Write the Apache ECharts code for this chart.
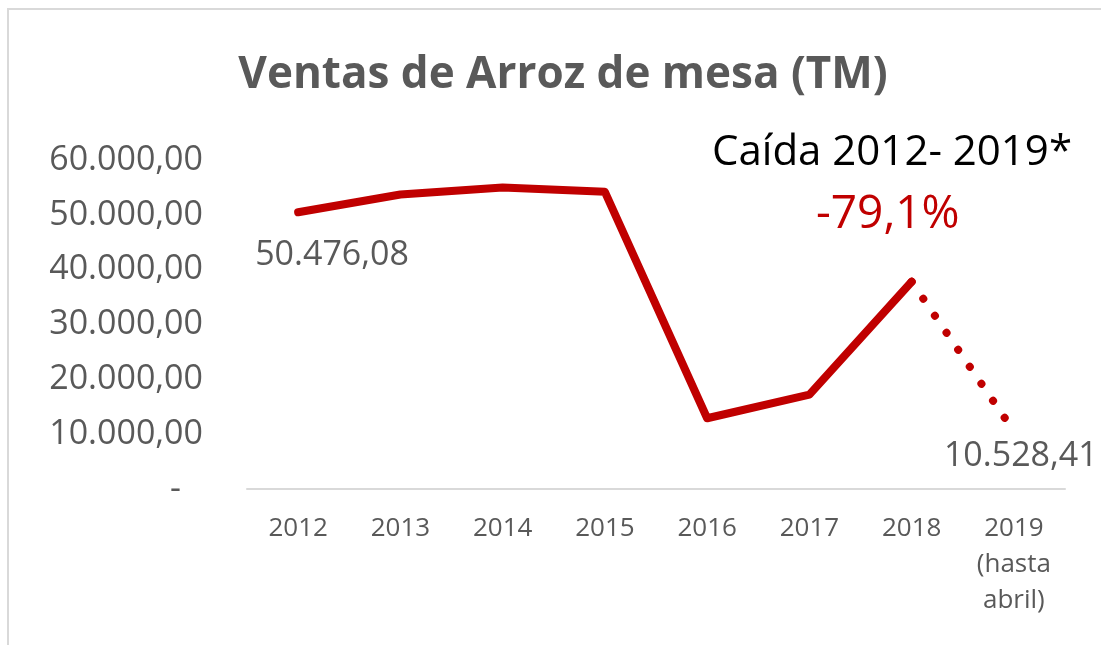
<!DOCTYPE html>
<html>
<head>
<meta charset="utf-8">
<script src="https://cdn.jsdelivr.net/npm/echarts@6/dist/echarts.min.js"></script>
<style>
  html, body { margin: 0; padding: 0; background: #fff; }
  #chart { width: 1101px; height: 645px; }
</style>
</head>
<body>
<div id="chart"></div>
<script>
// Data
const years = ['2012', '2013', '2014', '2015', '2016', '2017', '2018', '2019\n(hasta\nabril)'];
const ventas = [50476.08, 53700, 55000, 54200, 12900, 17200, 37800, 10528.41];
const yTicks = [0, 10000, 20000, 30000, 40000, 50000, 60000];

const FONT = 'Open Sans';
const GRAY = '#595959';
const RED = '#C00000';

// Spanish number formatting, e.g. 50.476,08
const fmt = (v) => {
  const parts = v.toFixed(2).split('.');
  return parts[0].replace(/\B(?=(\d{3})+(?!\d))/g, '.') + ',' + parts[1];
};

// solid part up to 2018, dotted part 2018 -> 2019
const solid = ventas.map((v, i) => (i < ventas.length - 1 ? v : null));
const dotted = ventas.map((v, i) => (i >= ventas.length - 2 ? v : null));

const chart = echarts.init(document.getElementById('chart'));

chart.setOption({
  animation: false,
  backgroundColor: '#fff',
  textStyle: { fontFamily: FONT },
  grid: { left: 247, right: 36, top: 160, bottom: 156 },
  title: {
    text: 'Ventas de Arroz de mesa (TM)',
    left: 558,
    textAlign: 'center',
    top: 48,
    textStyle: { fontFamily: FONT, fontSize: 44, fontWeight: 'bold', color: GRAY }
  },
  graphic: [
    {
      type: 'rect',
      silent: true,
      shape: { x: 8, y: 9, width: 1200, height: 700 },
      style: { fill: 'none', stroke: '#D9D9D9', lineWidth: 2 }
    },
    {
      type: 'text',
      x: 712,
      y: 153,
      style: { text: 'Caída 2012- 2019*', fontFamily: FONT, fontSize: 42, fill: '#000', verticalAlign: 'middle' }
    },
    {
      type: 'text',
      x: 816,
      y: 215,
      style: { text: '-79,1%', fontFamily: FONT, fontSize: 46, fill: RED, verticalAlign: 'middle' }
    }
  ],
  xAxis: {
    type: 'category',
    data: years,
    boundaryGap: true,
    axisLine: { lineStyle: { color: '#D9D9D9', width: 2 } },
    axisTick: { show: false },
    axisLabel: {
      color: GRAY,
      fontFamily: FONT,
      fontSize: 26,
      lineHeight: 36,
      margin: 22,
      interval: 0
    }
  },
  yAxis: {
    type: 'value',
    min: yTicks[0],
    max: yTicks[yTicks.length - 1],
    interval: 10000,
    splitLine: { show: false },
    axisLine: { show: false },
    axisTick: { show: false },
    axisLabel: {
      color: GRAY,
      fontFamily: FONT,
      fontSize: 34,
      margin: 44,
      formatter: (v) => (v === 0 ? '{z|-}' : fmt(v)),
      rich: { z: { fontSize: 34, color: GRAY, fontFamily: FONT, padding: [0, 22, 0, 0] } }
    }
  },
  series: [
    {
      type: 'line',
      data: solid,
      symbol: 'circle',
      symbolSize: 0.1,
      itemStyle: { color: RED },
      lineStyle: { color: RED, width: 8, cap: 'round', join: 'round' },
      label: {
        show: true,
        fontFamily: FONT,
        fontSize: 34,
        color: GRAY,
        formatter: (p) => (p.dataIndex === 0 ? fmt(p.value) : ''),
        position: [34, 43],
        align: 'center',
        verticalAlign: 'middle'
      }
    },
    {
      type: 'line',
      data: dotted,
      symbol: 'circle',
      symbolSize: 0.1,
      itemStyle: { color: RED },
      lineStyle: { color: RED, width: 8, type: [0.1, 20.5], cap: 'round' },
      label: {
        show: true,
        fontFamily: FONT,
        fontSize: 34,
        color: GRAY,
        formatter: (p) => (p.dataIndex === ventas.length - 1 ? fmt(p.value) : ''),
        position: [7, 25],
        align: 'center',
        verticalAlign: 'middle'
      }
    }
  ]
});
</script>
</body>
</html>
